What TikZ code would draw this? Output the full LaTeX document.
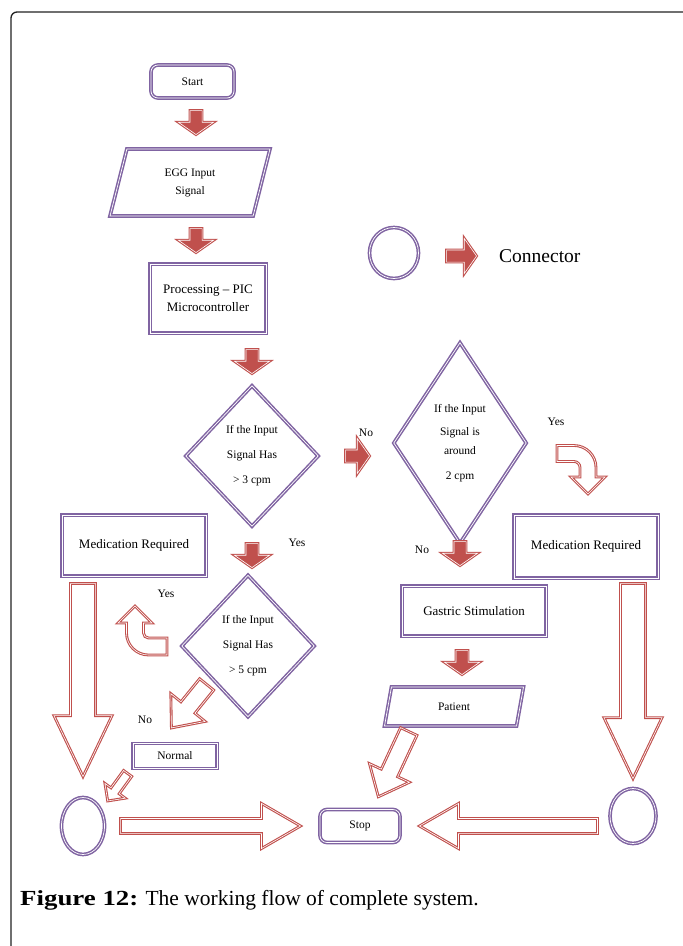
\documentclass[tikz,border=0pt]{standalone}
\usepackage{fontspec}
\setmainfont{Liberation Serif}
\usetikzlibrary{positioning, shapes.geometric, shapes.arrows}
\definecolor{cPurple}{HTML}{8064A2}
\definecolor{cRed}{HTML}{C0504D}
\definecolor{cFrame}{HTML}{222222}

\begin{document}
\begin{tikzpicture}[x=1pt, y=-1pt,
  shp/.style={draw=cPurple, line width=1.5pt, double=white, double distance=0.7pt,
              fill=white, inner sep=0pt, align=center, font=\fontsize{11.5}{14}\selectfont},
  term/.style={shp, rounded corners=7pt},
  proc/.style={shp},
  bigtxt/.style={font=\fontsize{13}{15}\selectfont},
  dec/.style={shp, diamond},
  io/.style={shp, trapezium, trapezium stretches body},
  conn/.style={shp, ellipse},
  blk/.style={single arrow, draw=cRed, line width=1.1pt, double=white, double distance=0.6pt,
              fill=white, inner xsep=0pt, anchor=tail},
  sarr/.style={blk, fill=cRed, inner ysep=5.5pt, single arrow head extend=11.5pt,
               single arrow tip angle=110, minimum height=24pt},
  bigarr/.style={blk, inner ysep=12pt, single arrow head extend=16.5pt,
                 single arrow tip angle=51},
  longarr/.style={blk, inner ysep=7pt, single arrow head extend=15pt,
                  single arrow tip angle=60},
  diagarr/.style={blk, inner ysep=8.5pt, single arrow head extend=13pt,
                  single arrow tip angle=80},
  tinyarr/.style={blk, inner ysep=4.5pt, single arrow head extend=7.5pt,
                  single arrow tip angle=90},
  bent/.style={draw=cRed, line width=1.1pt, double=white, double distance=0.6pt, fill=white},
  lbl/.style={font=\fontsize{11.5}{14}\selectfont, inner sep=0pt}]
\useasboundingbox (0,0) rectangle (683,946);
\draw[cFrame, line width=1.3pt, rounded corners=6pt] (11,946) -- (11,12) -- (683,12);

% main column
\node[term, minimum width=83pt, minimum height=33pt] (start) at (192.5,81.5) {Start};
\node[io, trapezium left angle=59, trapezium right angle=121, minimum width=160pt,
      minimum height=67pt] (egg) at (190,182.5) {EGG Input\\[4pt]Signal};
\node[proc, bigtxt, minimum width=116pt, minimum height=69pt] (pic) at (208,298.5)
      {Processing -- PIC\\[3pt]Microcontroller};
\node[dec, minimum width=133pt, minimum height=141pt] (chk3) at (252,456)
      {If the Input\\[11pt]Signal Has\\[11pt]> 3 cpm};
\node[dec, minimum width=133pt, minimum height=201pt] (chk2) at (460,443)
      {If the Input\\[9pt]Signal is\\[5pt]around\\[11pt]2 cpm};
\node[dec, minimum width=133pt, minimum height=142pt] (chk5) at (248,646)
      {If the Input\\[11pt]Signal Has\\[11pt]> 5 cpm};
\node[proc, bigtxt, minimum width=144pt, minimum height=61pt] (medL) at (134,545.5) {Medication Required};
\node[proc, bigtxt, minimum width=144pt, minimum height=63pt] (medR) at (586,546.5) {Medication Required};
\node[proc, bigtxt, minimum width=144pt, minimum height=50pt] (gastric) at (474,611) {Gastric Stimulation};
\node[io, trapezium left angle=48, trapezium right angle=132, minimum width=139pt,
      minimum height=39pt] (patient) at (454,706.5) {Patient};
\node[proc, minimum width=84pt, minimum height=25pt] (normal) at (175,756) {Normal};
\node[term, minimum width=80pt, minimum height=33pt] (stop) at (360,826) {Stop};
\node[conn, minimum width=43pt, minimum height=57pt] (cL) at (83,826) {};
\node[conn, minimum width=46pt, minimum height=55pt] (cR) at (633,816) {};

% legend
\node[conn, minimum width=49pt, minimum height=51pt] (cLeg) at (394,253) {};
\node[sarr, minimum height=30pt] (legArr) at (446,256) {};
\node[anchor=west, inner sep=0pt, font=\fontsize{19.5}{22}\selectfont] (legTxt) at (499,256) {Connector};

% short block arrows
\foreach \n/\x/\y/\r in {s1/196/110/-90, s2/196/228/-90, s3/252/349/-90, s4/345/456/0,
                         s5/252/543/-90, s6/460/541/-90, s7/462/650/-90}
  \node[sarr, rotate=\r] (\n) at (\x,\y) {};

% long block arrows
\node[bigarr, rotate=-90, minimum height=193pt] (dnL) at (83,583) {};
\node[bigarr, rotate=-90, minimum height=195pt] (dnR) at (633,583) {};
\node[longarr, minimum height=180pt] (toStopL) at (120,826) {};
\node[longarr, rotate=180, minimum height=178pt] (toStopR) at (598,826) {};
\node[diagarr, rotate=231, minimum height=56pt] (noArr) at (207,684) {};
\node[diagarr, rotate=245, minimum height=72pt] (patArr) at (409,731) {};
\node[tinyarr, rotate=234, minimum height=34pt] (normArr) at (128,773) {};

% bent arrows
\draw[bent] (557,445.5) -- (574,445.5) .. controls (586.15,445.5) and (596,455.35) .. (596,467.5)
  -- (596,477) -- (605,477) -- (588,494) -- (571,477) -- (580,477) -- (580,467.5)
  .. controls (580,464.2) and (577.3,461.5) .. (574,461.5) -- (557,461.5) -- cycle;
\draw[bent] (167,655) -- (148.5,655) .. controls (136.35,655) and (126.5,645.15) .. (126.5,633)
  -- (126.5,623) -- (118,623) -- (135,606) -- (152,623) -- (143.5,623) -- (143.5,633)
  .. controls (143.5,635.75) and (145.75,638) .. (148.5,638) -- (167,638) -- cycle;

% labels
\node[lbl] (l1) at (366,433) {No};
\node[lbl] (l2) at (556,422) {Yes};
\node[lbl] (l3) at (422,550) {No};
\node[lbl] (l4) at (297,543) {Yes};
\node[lbl] (l5) at (166,594) {Yes};
\node[lbl] (l6) at (145,720) {No};

% caption
\node[anchor=base west, inner sep=0pt, font=\fontsize{21.5}{26}\selectfont] (cap) at (20,905)
  {{\bfseries\addfontfeatures{FakeStretch=1.25}Figure 12:} The working flow of complete system.};
\end{tikzpicture}
\end{document}
